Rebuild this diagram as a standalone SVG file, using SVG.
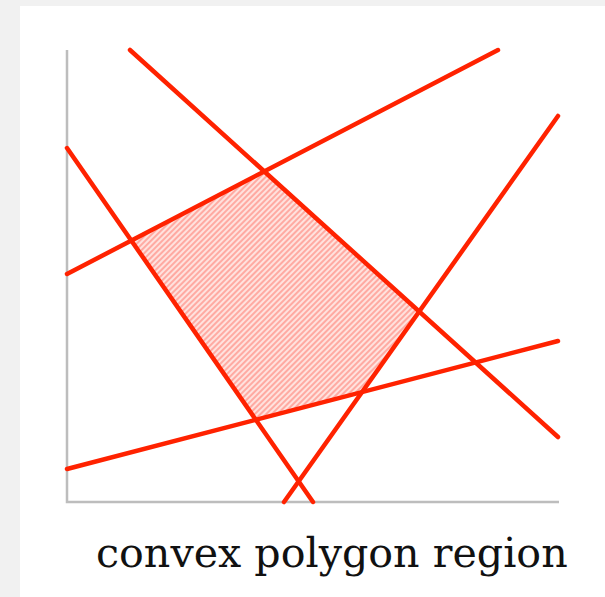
<svg xmlns="http://www.w3.org/2000/svg" width="605" height="597" viewBox="0 0 605 597">
<style>
.ln{stroke:#ff2200;stroke-width:4.5;stroke-linecap:round;fill:none}
.ax{stroke:#bdbdbd;stroke-width:2.5;fill:none}
.lbl{font-family:"DejaVu Serif","Liberation Serif",serif;font-size:41.2px;fill:#111}
</style>
<defs>
<pattern id="hatch" patternUnits="userSpaceOnUse" width="4" height="4" patternTransform="rotate(-45)">
<rect width="4" height="4" fill="#ffe2de"/>
<rect width="4" height="2" fill="#ffaaa2"/>
</pattern>
</defs>
<rect width="605" height="597" fill="#f1f1f1"/>
<rect x="20" y="6" width="585" height="591" fill="#ffffff"/>
<g id="region">
<polygon points="131.3,240.5 264.1,171.3 419.2,311.5 362,392.1 255.9,419.8" fill="url(#hatch)"/>
</g>
<g id="axes">
<polyline class="ax" points="67,50 67,502 559,502"/>
</g>
<g id="connectors">
<line class="ln" x1="130" y1="50" x2="558" y2="437"/>
<line class="ln" x1="67" y1="148" x2="313" y2="502"/>
<line class="ln" x1="67" y1="274" x2="498" y2="50"/>
<line class="ln" x1="284" y1="502" x2="558" y2="116"/>
<line class="ln" x1="67" y1="469" x2="558" y2="341"/>
</g>
<g id="label">
<text class="lbl" x="96" y="567">convex polygon region</text>
</g>
</svg>
